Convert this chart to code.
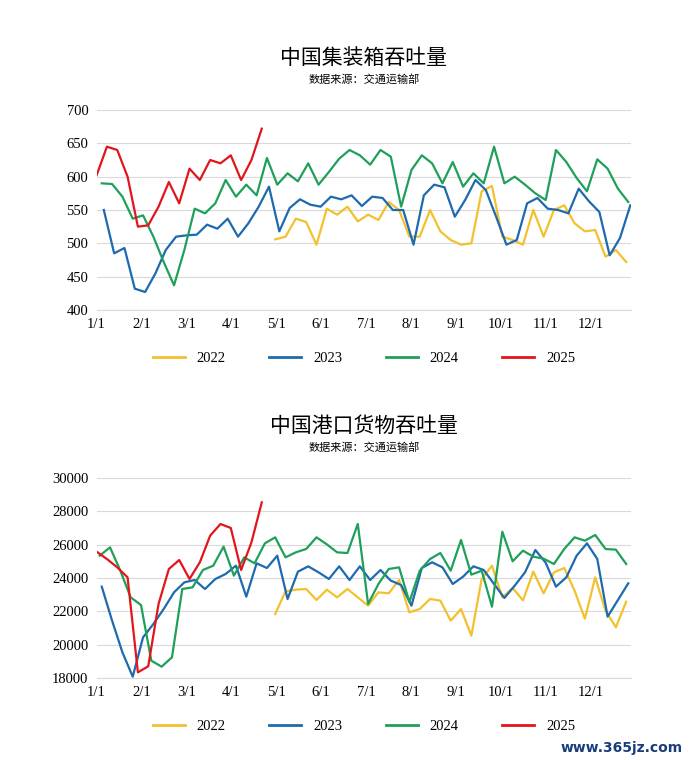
import numpy as np, pandas as pd, matplotlib
matplotlib.use("Agg")
import matplotlib.pyplot as plt, seaborn as sns

months = ["1/1","2/1","3/1","4/1","5/1","6/1","7/1","8/1","9/1","10/1","11/1","12/1"]
years = ["2022","2023","2024","2025"]
colors = ["#F2C12E","#1E6AAE","#1FA05A","#E1161D"]

c2022 = [506,510,537,532,498,552,543,555,533,543,535,562,550,510,510,550,518,505,498,500,578,586,510,505,498,550,510,550,557,530,518,520,480,490,472]
c2023 = [550,485,493,432,427,455,490,510,512,513,528,522,537,510,530,555,585,518,553,566,558,555,570,566,572,556,570,568,550,550,498,572,588,584,540,565,595,580,540,498,505,560,568,552,550,545,582,563,547,482,508,557]
c2024 = [590,589,570,537,542,510,472,437,490,552,545,560,595,570,588,572,628,588,605,593,620,588,607,627,640,632,618,640,630,555,610,632,620,590,622,585,605,590,645,590,600,588,575,565,640,622,598,578,626,612,582,562]
c2025 = [602,645,640,600,525,527,555,592,560,612,595,625,620,632,595,625,672]

p2022 = [21840,23200,23300,23340,22680,23300,22840,23340,22840,22340,23140,23080,23880,21940,22140,22740,22640,21440,22140,20540,23940,24740,22840,23400,22660,24380,23080,24340,24600,23240,21560,24040,22040,21040,22580]
p2023 = [23480,21440,19540,18080,20440,21240,22140,23140,23740,23880,23340,23940,24240,24740,22880,24880,24600,25340,22740,24380,24700,24340,23940,24700,23880,24700,23880,24480,23840,23580,22340,24600,24940,24640,23640,24080,24700,24480,23640,22800,23540,24340,25680,24920,23480,24040,25340,26080,25140,21680,22680,23680]
p2024 = [25340,25840,24440,22840,22380,19040,18680,19240,23340,23440,24480,24740,25880,24140,25240,24880,26080,26440,25240,25540,25740,26440,26020,25540,25500,27240,22440,23640,24540,24640,22560,24440,25140,25500,24440,26280,24200,24440,22280,26780,25000,25640,25280,25160,24840,25740,26440,26240,26580,25740,25700,24840]
p2025 = [25580,25140,24640,24040,18340,18700,22440,24540,25080,23940,24940,26540,27240,27000,24480,26140,28540]

def frame(series, starts):
    rows = []
    for y, s, st in zip(years, series, starts):
        for i, v in enumerate(s):
            rows.append((st + i, v, y))
    return pd.DataFrame(rows, columns=["week","value","year"])

plt.rcParams["font.family"] = ["Liberation Serif","Noto Sans CJK SC"]
fig = plt.figure(figsize=(6.9, 7.6), dpi=100)
ax1 = fig.add_axes([0.14, 1-310/760, 0.775, 200/760])
ax2 = fig.add_axes([0.14, 1-678/760, 0.775, 200/760])
cfg = [
    (ax1, [c2022,c2023,c2024,c2025], [17.3,0.7,0.5,0], "中国集装箱吞吐量", (400,700), np.arange(400,701,50)),
    (ax2, [p2022,p2023,p2024,p2025], [17.3,0.5,0.3,0], "中国港口货物吞吐量", (18000,30000), np.arange(18000,30001,2000)),
]
for ax, ser, st, title, ylim, yt in cfg:
    df = frame(ser, st)
    sns.lineplot(data=df, x="week", y="value", hue="year", palette=colors, ax=ax, lw=1.6, legend=False)
    ax.set_ylim(*ylim); ax.set_yticks(yt)
    ax.set_xlim(0, 51.8)
    ax.set_xticks([i*4.35 for i in range(12)]); ax.set_xticklabels(months)
    ax.grid(axis="y", color="#d9d9d9", lw=0.8); ax.set_axisbelow(True)
    for s in ["top","right","left"]: ax.spines[s].set_visible(False)
    ax.spines["bottom"].set_color("#d9d9d9")
    ax.tick_params(length=0, labelsize=10.5, pad=6)
    ax.set_xlabel(""); ax.set_ylabel("")
    ax.text(0.5, 1.26, title, transform=ax.transAxes, ha="center", va="center", fontsize=15, family="Noto Sans CJK SC")
    ax.text(0.5, 1.155, "数据来源：交通运输部", transform=ax.transAxes, ha="center", va="center", fontsize=8, family="Noto Sans CJK SC")
    handles = [plt.Line2D([], [], color=c, lw=2) for c in colors]
    ax.legend(handles, years, loc="center", bbox_to_anchor=(0.5, -0.24), ncol=4, frameon=False, fontsize=10.5, handlelength=2.2, columnspacing=3)

fig.text(0.99, 0.01, "www.365jz.com", ha="right", fontsize=10, color="#1a3d7c", weight="bold", family="DejaVu Sans")
fig.savefig("out.png")
